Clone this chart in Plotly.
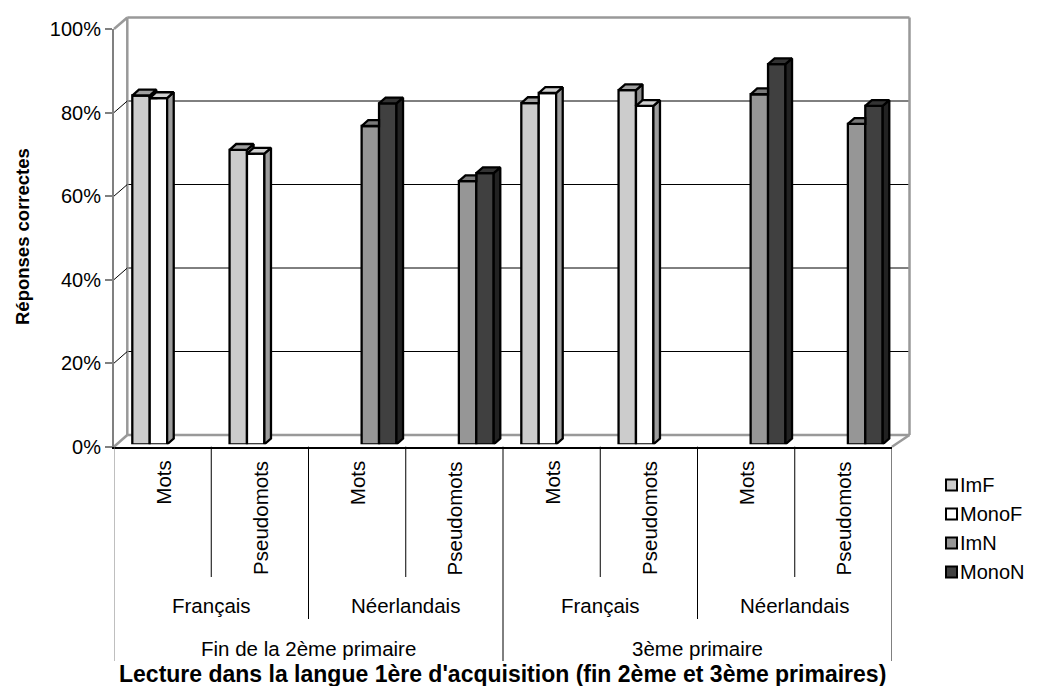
import plotly.graph_objects as go

# ---- data -------------------------------------------------------------
words = ["Mots", "Pseudomots", "Mots", "Pseudomots",
         "Mots", "Pseudomots", "Mots", "Pseudomots"]
languages = ["Français", "Néerlandais", "Français", "Néerlandais"]
grades = ["Fin de la 2ème primaire", "3ème primaire"]

series_names = ["ImF", "MonoF", "ImN", "MonoN"]
imf = [83.5, 70.5, None, None, 81.7, 84.8, None, None]
monof = [82.9, 69.6, None, None, 84.1, 81.0, None, None]
imn = [None, None, 76.2, 63.0, None, None, 83.8, 76.7]
monon = [None, None, 81.6, 64.9, None, None, 91.0, 81.0]
series_values = [imf, monof, imn, monon]

y_ticks = [0, 20, 40, 60, 80, 100]
y_tick_text = ["0%", "20%", "40%", "60%", "80%", "100%"]

# ---- styling ------------------------------------------------------------
W, H = 1038, 686
FONT = "Liberation Sans, Arial, sans-serif"
front_col = ["#CCCCCC", "#FFFFFF", "#969696", "#404040"]
top_col = ["#A0A0A0", "#D0D0D0", "#7A7A7A", "#333333"]
side_col = ["#8C8C8C", "#9C9C9C", "#666666", "#222222"]
WALL = "#999999"
AXIS = "#808080"
OUTLINE = 2.3


def fx(px):
    return px / W


def fy(px):
    return 1 - px / H


# pixel geometry of the pseudo-3D box
FRONT_L, FRONT_R, FRONT_B, FRONT_T = 114, 892, 446.7, 29
BACK_L, BACK_R, BACK_B, BACK_T = 127.3, 909.5, 435, 17.5
BAR_L, BAR_R, BAR_B, BAR_T = 118.5, 896.5, 444.3, 26.6

n_cat = len(words)
slot_px = (FRONT_R - FRONT_L) / n_cat
unit_px = (BAR_B - BAR_T) / 100.0
depth_dx = 6.6 / slot_px      # bar depth, in category units
depth_dy = 5.8 / unit_px      # bar depth, in percent units

bargap = 0.284
bar_w = (1 - bargap) / len(series_names)
offsets = [-(1 - bargap) / 2 + k * bar_w for k in range(len(series_names))]

fig = go.Figure()

# empty trace so the front value axis always gets its own subplot
fig.add_trace(go.Scatter(x=[], y=[], xaxis="x2", yaxis="y2",
                         showlegend=False, hoverinfo="skip"))

# front faces of the columns
for k, (name, vals) in enumerate(zip(series_names, series_values)):
    fig.add_trace(go.Bar(
        x=list(range(n_cat)), y=vals, name=name,
        width=bar_w, offset=offsets[k],
        marker=dict(color=front_col[k], line=dict(color="black", width=OUTLINE)),
        xaxis="x3", yaxis="y3", hoverinfo="skip", showlegend=False,
    ))


def face(xs, ys, color):
    fig.add_trace(go.Scatter(
        x=xs + [xs[0]], y=ys + [ys[0]], mode="lines", fill="toself",
        fillcolor=color, line=dict(color="black", width=OUTLINE),
        xaxis="x3", yaxis="y3", showlegend=False, hoverinfo="skip",
    ))


# side and top faces, painted left to right inside each category
for i in range(n_cat):
    present = [k for k in range(len(series_names)) if series_values[k][i] is not None]
    for j, k in enumerate(present):
        v = series_values[k][i]
        xl = i + offsets[k]
        xr = xl + bar_w
        nxt = present[j + 1] if j + 1 < len(present) else None
        v_next = series_values[nxt][i] if nxt is not None else None
        # right-hand side face
        if v_next is None:
            face([xr, xr, xr + depth_dx, xr + depth_dx],
                 [0, v, v + depth_dy, depth_dy], side_col[k])
        elif v_next < v:
            face([xr, xr, xr + depth_dx, xr + depth_dx],
                 [v_next, v, v + depth_dy, v_next], side_col[k])
        # top face
        if v_next is not None and v_next >= v:
            face([xl, xr, xr, xl + depth_dx],
                 [v, v, v + depth_dy, v + depth_dy], top_col[k])
        else:
            face([xl, xr, xr + depth_dx, xl + depth_dx],
                 [v, v, v + depth_dy, v + depth_dy], top_col[k])

hidden = dict(showgrid=False, zeroline=False, showticklabels=False,
              showline=False, ticks="")

fig.update_layout(
    width=W, height=H,
    margin=dict(l=0, r=0, t=0, b=0, autoexpand=False),
    paper_bgcolor="white", plot_bgcolor="rgba(0,0,0,0)",
    barmode="overlay",
    showlegend=False,
    font=dict(family=FONT, size=20, color="black"),
    # front value axis
    xaxis2=dict(domain=[fx(FRONT_L), fx(FRONT_R)], range=[-0.5, n_cat - 0.5],
                anchor="y2", showgrid=False, zeroline=False,
                showticklabels=False, ticks="", showline=True,
                linecolor="black", linewidth=1.5),
    yaxis2=dict(domain=[fy(FRONT_B), fy(FRONT_T)], range=[0, 100], anchor="x2",
                tickmode="array", tickvals=y_ticks, ticktext=y_tick_text,
                ticks="outside", ticklen=7,
                tickwidth=2, tickcolor=AXIS, showline=True, linecolor=AXIS,
                linewidth=2, showgrid=False, zeroline=False,
                tickfont=dict(size=20, family=FONT, color="black")),
    # plane holding the columns
    xaxis3=dict(domain=[fx(BAR_L), fx(BAR_R)], range=[-0.5, n_cat - 0.5],
                anchor="y3", **hidden),
    yaxis3=dict(domain=[fy(BAR_B), fy(BAR_T)], range=[0, 100], anchor="x3",
                **hidden),
)

shapes = []


def line(x0, y0, x1, y1, color, width, layer="below"):
    shapes.append(dict(type="line", xref="paper", yref="paper",
                       x0=fx(x0), y0=fy(y0), x1=fx(x1), y1=fy(y1),
                       line=dict(color=color, width=width), layer=layer))


def front_y(t):
    return FRONT_B - (FRONT_B - FRONT_T) * t / 100


def back_y(t):
    return BACK_B - (BACK_B - BACK_T) * t / 100


# back wall: gridlines and frame
for t in y_ticks[1:-1]:
    line(BACK_L, back_y(t), BACK_R, back_y(t), "black", 1)
line(BACK_L, BACK_T, BACK_R, BACK_T, WALL, 2.5)
line(BACK_R, BACK_T, BACK_R, BACK_B, WALL, 2.5)
line(BACK_L, BACK_T, BACK_L, BACK_B, WALL, 2.5)
line(BACK_L, BACK_B, BACK_R, BACK_B, WALL, 2.5)

# side wall: gridline slants from the front axis to the back wall
for t in y_ticks:
    edge = t in (y_ticks[0], y_ticks[-1])
    line(FRONT_L, front_y(t), BACK_L, back_y(t),
         WALL if edge else "black", 2.5 if edge else 1)
# right edge of the floor
line(FRONT_R, FRONT_B, BACK_R, BACK_B, WALL, 2.5)

# category dividers (three levels)
for b in range(n_cat + 1):
    if b % 4 == 0:
        bottom = 661
    elif b % 2 == 0:
        bottom = 619
    else:
        bottom = 577
    shapes.append(dict(type="line", xref="x2", yref="paper",
                       x0=b - 0.5, x1=b - 0.5, y0=fy(FRONT_B), y1=fy(bottom),
                       line=dict(color=AXIS if b == 0 else "black", width=1)))

# legend keys
LEG_X, LEG_Y0, LEG_STEP, LEG_BOX = 951.5, 485, 29, 11
for k in range(len(series_names)):
    cy = LEG_Y0 + k * LEG_STEP
    shapes.append(dict(type="rect", xref="paper", yref="paper",
                       x0=fx(LEG_X - LEG_BOX / 2), x1=fx(LEG_X + LEG_BOX / 2),
                       y0=fy(cy + LEG_BOX / 2), y1=fy(cy - LEG_BOX / 2),
                       fillcolor=front_col[k],
                       line=dict(color="black", width=2)))
fig.update_layout(shapes=shapes)

ann = []
for i, w in enumerate(words):
    ann.append(dict(x=i, y=fy(459), xref="x2", yref="paper", text=w,
                    textangle=-90, showarrow=False, xanchor="center",
                    yanchor="top", font=dict(size=20.5)))
for j, lang in enumerate(languages):
    ann.append(dict(x=2 * j + 0.5, y=fy(605), xref="x2", yref="paper",
                    text=lang, showarrow=False, xanchor="center",
                    yanchor="middle", font=dict(size=20.5)))
for j, g in enumerate(grades):
    ann.append(dict(x=4 * j + 1.5, y=fy(648), xref="x2", yref="paper",
                    text=g, showarrow=False, xanchor="center",
                    yanchor="middle", font=dict(size=20.5)))
for k, name in enumerate(series_names):
    ann.append(dict(x=fx(LEG_X + 6.5), y=fy(LEG_Y0 + k * LEG_STEP),
                    xref="paper", yref="paper", text=name, showarrow=False,
                    xanchor="left", yanchor="middle", font=dict(size=20)))
ann.append(dict(x=fx(502), y=fy(674), xref="paper", yref="paper",
                text="<b>Lecture dans la langue 1ère d'acquisition "
                     "(fin 2ème et 3ème primaires)</b>",
                showarrow=False, xanchor="center", yanchor="middle",
                font=dict(size=23)))
ann.append(dict(x=fx(22), y=fy(237), xref="paper", yref="paper",
                text="<b>Réponses correctes</b>", textangle=-90,
                showarrow=False, xanchor="center", yanchor="middle",
                font=dict(size=18.5)))
fig.update_layout(annotations=ann)

fig.write_html("out.html")
